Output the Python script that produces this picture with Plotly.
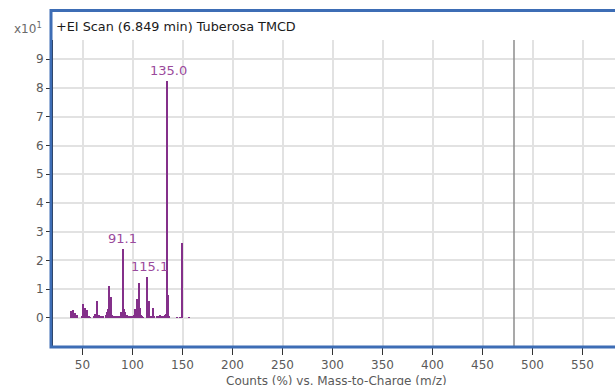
import plotly.graph_objects as go

# ---- data (intensity in units of x10^1 %) ----
mz = [39, 40, 41, 42, 43, 44, 45,
      50, 51, 52, 53, 54, 55, 56, 57, 58,
      62, 63, 64, 65, 66, 67, 68, 69, 70, 71,
      74, 75, 76, 77, 78, 79, 80, 81, 82, 83, 84, 85, 86, 87,
      89, 90, 91, 92, 93, 94, 95, 96, 97, 98, 99,
      101, 102, 103, 104, 105, 106, 107, 108, 109, 110, 111,
      115, 116, 117, 118, 119, 120, 121, 122, 125, 127, 128, 129, 131, 133, 134,
      135, 136, 137, 145, 148, 150, 157]
intensity = [0.25, 0.08, 0.28, 0.10, 0.18, 0.05, 0.12,
             0.05, 0.47, 0.20, 0.36, 0.08, 0.27, 0.05, 0.08, 0.03,
             0.05, 0.15, 0.06, 0.58, 0.12, 0.10, 0.04, 0.08, 0.03, 0.04,
             0.10, 0.20, 0.30, 1.12, 0.35, 0.73, 0.12, 0.06, 0.03, 0.04, 0.03, 0.05, 0.04, 0.06,
             0.22, 0.12, 2.40, 0.30, 0.20, 0.06, 0.10, 0.03, 0.04, 0.03, 0.04,
             0.05, 0.10, 0.30, 0.15, 0.67, 0.22, 1.22, 0.35, 0.10, 0.04, 0.03,
             1.43, 0.20, 0.58, 0.08, 0.05, 0.08, 0.35, 0.06, 0.04, 0.05, 0.10, 0.05, 0.08, 0.10, 0.15,
             8.24, 0.81, 0.08, 0.03, 0.03, 2.62, 0.03]

label_mz = [135.0, 91.1, 115.1]
label_int = [8.24, 2.40, 1.43]
label_text = ["135.0", "91.1", "115.1"]

marker_mz = 481.5
x_ticks = [50, 100, 150, 200, 250, 300, 350, 400, 450, 500, 550]
y_ticks = [0, 1, 2, 3, 4, 5, 6, 7, 8, 9]

title_text = "+EI Scan (6.849 min) Tuberosa TMCD"
x_title = "Counts (%) vs. Mass-to-Charge (m/z)"

PURPLE = "#84308a"
LABEL_PURPLE = "#9a4a9c"
BLUE = "#3d6db5"
GRAY_TXT = "#5a5a5a"
FONT = "DejaVu Sans"

fig = go.Figure()
fig.add_trace(go.Bar(x=mz, y=intensity, width=1.1,
                     marker=dict(color=PURPLE, line=dict(width=0)),
                     hoverinfo="x+y"))

L, T, B = 53, 40, 39
W, H = 615, 385
plot_w = W - L
plot_h = H - T - B

def px_x(px):
    return (px - L) / plot_w

def px_y(py):
    return (H - B - py) / plot_h

fig.update_layout(
    width=W, height=H,
    margin=dict(l=L, r=0, t=T, b=B, pad=0),
    plot_bgcolor="white", paper_bgcolor="white",
    showlegend=False, bargap=0,
    font=dict(family=FONT, size=12, color=GRAY_TXT),
    xaxis=dict(range=[20.5, 582.5], tickmode="array", tickvals=x_ticks,
               ticktext=[str(v) for v in x_ticks],
               showgrid=True, gridcolor="#e2e2e2", gridwidth=1.5,
               zeroline=False, showline=False,
               ticks="outside", ticklen=8, tickcolor="#333", tickwidth=1,
               tickfont=dict(family=FONT, size=12, color=GRAY_TXT)),
    yaxis=dict(range=[-0.975, 9.67], tickmode="array", tickvals=y_ticks,
               ticktext=[str(v) for v in y_ticks],
               showgrid=True, gridcolor="#e2e2e2", gridwidth=1.5,
               zeroline=False, showline=True, linecolor="#222", linewidth=2,
               ticks="outside", ticklen=5, tickcolor="#333", tickwidth=1,
               tickfont=dict(family=FONT, size=12, color=GRAY_TXT)),
)

# cursor / marker line
fig.add_shape(type="line", xref="x", yref="paper", x0=marker_mz, x1=marker_mz,
              y0=0, y1=1, line=dict(color="#8c8c8c", width=1.5))

# blue frame
fig.add_shape(type="rect", xref="paper", yref="paper",
              x0=px_x(51), x1=1.05, y0=px_y(347), y1=px_y(10.5),
              line=dict(color=BLUE, width=3), fillcolor="rgba(0,0,0,0)", layer="above")

# peak labels
shifts = [1, -1, 2]
for x, y, t, s in zip(label_mz, label_int, label_text, shifts):
    fig.add_annotation(x=x, y=y, text=t, showarrow=False, yanchor="bottom",
                       xanchor="center", yshift=1, xshift=s,
                       font=dict(family=FONT, size=13, color=LABEL_PURPLE))

# title inside frame
fig.add_annotation(xref="paper", yref="paper", x=px_x(54), y=px_y(27),
                   xanchor="left", yanchor="middle", text=title_text, showarrow=False,
                   font=dict(family=FONT, size=12.8, color="#1a1a1a"))

# scale factor label
fig.add_annotation(xref="paper", yref="paper", x=px_x(44), y=px_y(28),
                   xanchor="right", yanchor="middle", text="x10<sup>1</sup>", showarrow=False,
                   font=dict(family=FONT, size=12, color="#6a6a6a"))

# x axis title
fig.add_annotation(xref="paper", yref="paper", x=px_x(336), y=px_y(381),
                   xanchor="center", yanchor="middle", text=x_title, showarrow=False,
                   font=dict(family=FONT, size=12, color=GRAY_TXT))

fig.write_html("out.html", config={"displayModeBar": False},
               post_script="document.body.style.margin='0px';")
